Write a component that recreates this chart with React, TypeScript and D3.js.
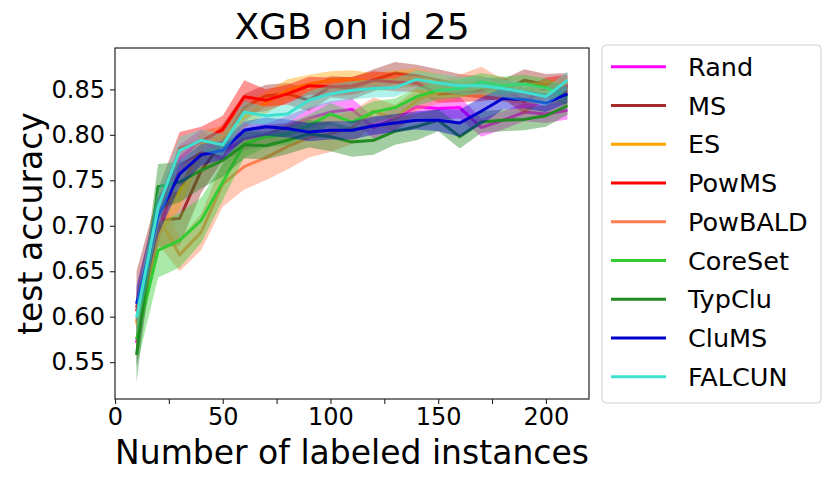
import * as d3 from "d3";
import React, { useEffect, useRef } from "react";

// labeled-instance budgets (x)
const budgets = [10, 20, 30, 40, 50, 60, 70, 80, 90, 100, 110, 120, 130, 140, 150, 160, 170, 180, 190, 200, 210];

const names = ["Rand", "MS", "ES", "PowMS", "PowBALD", "CoreSet", "TypClu", "CluMS", "FALCUN"];
const colors = ["#ff00ff", "#a52a2a", "#ffa500", "#ff0000", "#ff7f50", "#32cd32", "#228b22", "#0000cd", "#40e0d0"];

// mean test accuracy
const rand = [0.571, 0.71, 0.774, 0.794, 0.781, 0.795, 0.8, 0.809, 0.818, 0.825, 0.828, 0.808, 0.818, 0.831, 0.829, 0.83, 0.808, 0.816, 0.825, 0.823, 0.827];
const ms = [0.61, 0.706, 0.708, 0.761, 0.792, 0.83, 0.843, 0.845, 0.838, 0.853, 0.851, 0.86, 0.868, 0.865, 0.86, 0.855, 0.852, 0.849, 0.86, 0.855, 0.856];
const es = [0.592, 0.714, 0.738, 0.789, 0.798, 0.82, 0.835, 0.849, 0.856, 0.86, 0.861, 0.858, 0.861, 0.863, 0.857, 0.852, 0.851, 0.847, 0.845, 0.85, 0.852];
const powms = [0.606, 0.71, 0.785, 0.793, 0.806, 0.842, 0.838, 0.845, 0.854, 0.853, 0.854, 0.86, 0.858, 0.857, 0.845, 0.846, 0.849, 0.852, 0.837, 0.851, 0.854];
const powbald = [0.595, 0.71, 0.668, 0.693, 0.746, 0.765, 0.775, 0.787, 0.797, 0.801, 0.808, 0.826, 0.818, 0.838, 0.847, 0.854, 0.863, 0.849, 0.845, 0.847, 0.845];
const coreset = [0.575, 0.673, 0.684, 0.706, 0.748, 0.79, 0.798, 0.801, 0.81, 0.823, 0.814, 0.825, 0.83, 0.842, 0.849, 0.851, 0.858, 0.854, 0.856, 0.852, 0.842];
const typclu = [0.558, 0.743, 0.748, 0.761, 0.772, 0.789, 0.788, 0.794, 0.801, 0.798, 0.792, 0.794, 0.804, 0.809, 0.816, 0.798, 0.814, 0.816, 0.817, 0.821, 0.832];
const clums = [0.614, 0.71, 0.757, 0.778, 0.783, 0.805, 0.809, 0.807, 0.803, 0.805, 0.805, 0.81, 0.813, 0.816, 0.816, 0.813, 0.826, 0.84, 0.839, 0.835, 0.845];
const falcun = [0.599, 0.72, 0.783, 0.794, 0.789, 0.825, 0.821, 0.823, 0.838, 0.845, 0.849, 0.851, 0.852, 0.861, 0.857, 0.854, 0.854, 0.851, 0.847, 0.842, 0.86];

// standard deviation (shaded band)
const randStd = [0.025, 0.02, 0.015, 0.012, 0.01, 0.012, 0.012, 0.012, 0.012, 0.012, 0.012, 0.012, 0.012, 0.012, 0.012, 0.012, 0.01, 0.01, 0.01, 0.01, 0.01];
const msStd = [0.04, 0.03, 0.03, 0.025, 0.02, 0.015, 0.012, 0.012, 0.012, 0.012, 0.012, 0.012, 0.012, 0.012, 0.012, 0.012, 0.012, 0.012, 0.012, 0.012, 0.012];
const esStd = [0.025, 0.025, 0.02, 0.015, 0.012, 0.012, 0.012, 0.012, 0.01, 0.01, 0.01, 0.01, 0.01, 0.01, 0.01, 0.01, 0.01, 0.01, 0.01, 0.01, 0.01];
const powmsStd = [0.02, 0.03, 0.018, 0.016, 0.015, 0.018, 0.012, 0.01, 0.01, 0.01, 0.01, 0.01, 0.01, 0.01, 0.01, 0.01, 0.012, 0.012, 0.014, 0.012, 0.012];
const powbaldStd = [0.03, 0.03, 0.018, 0.02, 0.025, 0.025, 0.025, 0.025, 0.022, 0.02, 0.018, 0.015, 0.015, 0.012, 0.012, 0.012, 0.012, 0.012, 0.012, 0.012, 0.012];
const coresetStd = [0.03, 0.03, 0.03, 0.025, 0.02, 0.015, 0.012, 0.012, 0.012, 0.012, 0.012, 0.012, 0.01, 0.01, 0.01, 0.01, 0.01, 0.01, 0.01, 0.01, 0.01];
const typcluStd = [0.03, 0.025, 0.022, 0.02, 0.018, 0.015, 0.015, 0.015, 0.015, 0.016, 0.016, 0.016, 0.015, 0.015, 0.012, 0.013, 0.012, 0.012, 0.012, 0.012, 0.01];
const clumsStd = [0.02, 0.02, 0.015, 0.012, 0.01, 0.01, 0.01, 0.01, 0.01, 0.01, 0.01, 0.01, 0.01, 0.01, 0.012, 0.015, 0.015, 0.012, 0.01, 0.01, 0.01];
const falcunStd = [0.02, 0.02, 0.015, 0.012, 0.012, 0.012, 0.01, 0.01, 0.01, 0.01, 0.01, 0.01, 0.01, 0.01, 0.01, 0.01, 0.01, 0.01, 0.01, 0.01, 0.01];

const means = [rand, ms, es, powms, powbald, coreset, typclu, clums, falcun];
const stds = [randStd, msStd, esStd, powmsStd, powbaldStd, coresetStd, typcluStd, clumsStd, falcunStd];

const xTicks = [0, 25, 50, 75, 100, 125, 150, 175, 200];
const yTicks = [0.55, 0.6, 0.65, 0.7, 0.75, 0.8, 0.85];

const FONT = "DejaVu Sans, sans-serif";

export default function App() {
  const ref = useRef<SVGSVGElement | null>(null);

  useEffect(() => {
    const width = 831;
    const height = 482;
    const margin = { top: 48, right: 242, bottom: 83, left: 115 };

    const svg = d3.select(ref.current);
    svg.selectAll("*").remove();
    svg.attr("width", width).attr("height", height);

    const x = d3.scaleLinear().domain([0, 220]).range([margin.left, width - margin.right]);
    const y = d3.scaleLinear().domain([0.5095, 0.8955]).range([height - margin.bottom, margin.top]);

    svg.append("rect").attr("width", width).attr("height", height).attr("fill", "white");

    const clipId = "plotclip";
    svg.append("clipPath").attr("id", clipId).append("rect")
      .attr("x", x(0)).attr("y", margin.top)
      .attr("width", x(220) - x(0)).attr("height", y(0.5095) - margin.top);

    const plot = svg.append("g").attr("clip-path", `url(#${clipId})`);

    names.forEach((name, i) => {
      const rows = budgets.map((b, j) => ({ b, m: means[i][j], s: stds[i][j] }));
      const line = d3.line<any>().x((d) => x(d.b)).y((d) => y(d.m));
      const area = d3.area<any>().x((d) => x(d.b)).y0((d) => y(d.m - d.s)).y1((d) => y(d.m + d.s));
      plot.append("path").datum(rows).attr("d", area)
        .attr("fill", colors[i]).attr("fill-opacity", 0.42).attr("stroke", "none");
      plot.append("path").datum(rows).attr("d", line)
        .attr("fill", "none").attr("stroke", colors[i]).attr("stroke-width", 3)
        .attr("stroke-linejoin", "round");
    });

    // axes
    const xAxis = svg.append("g").attr("transform", `translate(0,${y(0.5095)})`)
      .call(d3.axisBottom(x).tickValues(xTicks).tickSize(5).tickPadding(4)
        .tickFormat((d: any) => (d % 50 === 0 ? String(d) : "")));
    const yAxis = svg.append("g").attr("transform", `translate(${x(0)},0)`)
      .call(d3.axisLeft(y).tickValues(yTicks).tickSize(5).tickPadding(5)
        .tickFormat((d: any) => d3.format(".2f")(d)));
    [xAxis, yAxis].forEach((a) => {
      a.select(".domain").remove();
      a.selectAll("line").attr("stroke", "#222").attr("stroke-width", 1.1);
      a.selectAll("text").attr("font-family", FONT).attr("font-size", 24).attr("fill", "black");
    });

    svg.append("rect")
      .attr("x", x(0)).attr("y", margin.top)
      .attr("width", x(220) - x(0)).attr("height", y(0.5095) - margin.top)
      .attr("fill", "none").attr("stroke", "#222").attr("stroke-width", 1.2);

    svg.append("text").attr("x", (x(0) + x(220)) / 2).attr("y", 39)
      .attr("text-anchor", "middle").attr("font-family", FONT).attr("font-size", 36)
      .text("XGB on id 25");

    svg.append("text").attr("x", (x(0) + x(220)) / 2).attr("y", 464)
      .attr("text-anchor", "middle").attr("font-family", FONT).attr("font-size", 33)
      .text("Number of labeled instances");

    svg.append("text")
      .attr("transform", `translate(42,${(margin.top + y(0.5095)) / 2}) rotate(-90)`)
      .attr("text-anchor", "middle").attr("font-family", FONT).attr("font-size", 33)
      .text("test accuracy");

    // legend
    const lg = svg.append("g");
    lg.append("rect").attr("x", 602).attr("y", 45).attr("width", 219).attr("height", 358)
      .attr("rx", 4).attr("fill", "white").attr("stroke", "#d0d0d0").attr("stroke-width", 1);
    names.forEach((name, i) => {
      const ly = 66.7 + i * 38.75;
      lg.append("line").attr("x1", 611).attr("x2", 666).attr("y1", ly).attr("y2", ly)
        .attr("stroke", colors[i]).attr("stroke-width", 3);
      lg.append("text").attr("x", 688).attr("y", ly).attr("dy", "0.36em")
        .attr("font-family", FONT).attr("font-size", 25.5).text(name);
    });
  }, []);

  return <svg ref={ref} style={{ position: "absolute", left: 0, top: 0 }} />;
}
